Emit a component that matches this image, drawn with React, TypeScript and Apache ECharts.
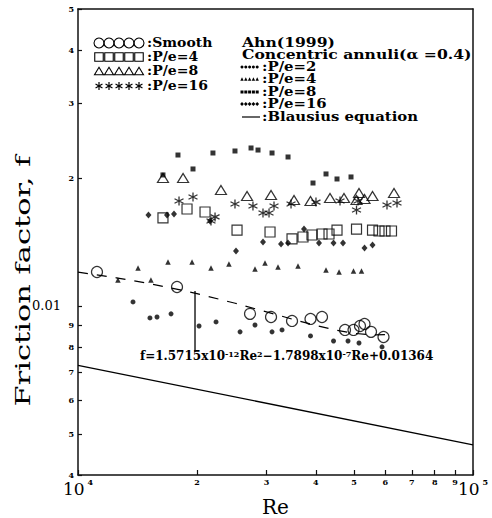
import React, { useEffect, useRef } from 'react';
import * as echarts from 'echarts';

// ---- Data (Re, f) ----
// Present study, smooth annulus (open circles)
const smoothRe = [11170, 17810, 27260, 30810, 34820, 38780, 41470, 47420, 49830, 51750, 53130, 55180, 59350];
const smoothF = [0.01202, 0.01108, 0.00958, 0.00942, 0.00922, 0.00932, 0.00942, 0.00878, 0.00878, 0.00897, 0.00907, 0.00869, 0.00845];
// P/e=4 (open squares)
const pe4Re = [16410, 18880, 20970, 25270, 30630, 34820, 37120, 39120, 41470, 43200, 45260, 50710, 55670, 57810, 59870, 62180];
const pe4F = [0.01611, 0.01691, 0.01664, 0.01509, 0.01493, 0.01438, 0.01453, 0.01469, 0.01477, 0.01477, 0.01509, 0.01517, 0.01509, 0.01501, 0.01501, 0.01501];
// P/e=8 (open triangles)
const pe8Re = [16410, 18450, 23010, 26790, 30810, 35230, 38780, 43450, 47140, 50710, 51450, 53130, 55670, 63100];
const pe8F = [0.02001, 0.02001, 0.01875, 0.01815, 0.01825, 0.01775, 0.01766, 0.01795, 0.01795, 0.01775, 0.01845, 0.01785, 0.01815, 0.01845];
// P/e=16 (asterisks)
const pe16Re = [18020, 19550, 21710, 22230, 24970, 27730, 29400, 30450, 31350, 34620, 40040, 46060, 50710, 51150, 60570, 64210];
const pe16F = [0.01766, 0.01805, 0.01585, 0.0162, 0.01738, 0.01719, 0.01655, 0.01655, 0.01719, 0.01738, 0.01756, 0.01766, 0.01682, 0.01766, 0.01728, 0.01747];
// Ahn (1999) P/e=2 (filled circles)
const ahn2Re = [13780, 15210, 15850, 17200, 20250, 22360, 25720, 28060, 30990, 32850, 38780, 44350, 48260, 51450, 58840];
const ahn2F = [0.01022, 0.00937, 0.00942, 0.00958, 0.00897, 0.00917, 0.00869, 0.00902, 0.00869, 0.00878, 0.0085, 0.00827, 0.00827, 0.00818, 0.00801];
// Ahn (1999) P/e=4 (filled triangles)
const ahn4Re = [12620, 14190, 15300, 16900, 19440, 21710, 24110, 28060, 29750, 32090, 36060, 42450, 45800, 49830, 52210];
const ahn4F = [0.01151, 0.01228, 0.01151, 0.01269, 0.01269, 0.01228, 0.01255, 0.01222, 0.01262, 0.01235, 0.01242, 0.01215, 0.01202, 0.01209, 0.01209];
// Ahn (1999) P/e=8 (filled squares)
const ahn8Re = [16410, 17910, 19550, 21960, 24970, 27420, 28560, 30990, 34020, 39350, 42450, 45260, 49110];
const ahn8F = [0.02034, 0.02266, 0.02101, 0.02291, 0.02316, 0.02354, 0.02328, 0.02291, 0.02242, 0.01947, 0.02045, 0.0199, 0.02012];
// Ahn (1999) P/e=16 (filled diamonds)
const ahn16Re = [15080, 16800, 17500, 21590, 25120, 29400, 32660, 34020, 37340, 40750, 44350, 46870, 53130, 55670];
const ahn16F = [0.01637, 0.01637, 0.01646, 0.01585, 0.01347, 0.01414, 0.01399, 0.01406, 0.01517, 0.01406, 0.01406, 0.01406, 0.01369, 0.01391];
// Blausius equation (solid line)
const blasiusRe = [10000, 100000];
const blasiusF = [0.00725, 0.00471];
// Fitted curve for smooth annulus (dashed line)
const fitRe = [10000, 12500, 15000, 17500, 20000, 25000, 30000, 35000, 40000, 45000, 50000, 55000, 60000];
const fitF = [0.012007, 0.011648, 0.011309, 0.010989, 0.010689, 0.010148, 0.009685, 0.009301, 0.008995, 0.008768, 0.00862, 0.00855, 0.008559];
// Pointer from the curve to the equation
const pointerRe = [19780, 19780];
const pointerF = [0.01084, 0.00779];

// ---- Axes ----
const xMin = 10000;
const xMax = 100000;
const yMin = 0.004;
const yMax = 0.05;
const xTickValues = [10000, 20000, 30000, 40000, 50000, 60000, 70000, 80000, 90000, 100000];
const xTickLabels = ['10^4', '2', '3', '4', '5', '6', '7', '8', '9', '10^5'];
const yTickValues = [0.004, 0.005, 0.006, 0.007, 0.008, 0.009, 0.01, 0.02, 0.03, 0.04, 0.05];
const yTickLabels = ['4', '5', '6', '7', '8', '9', '0.01', '2', '3', '4', '5'];

const equationText = '{n|f=1.5715x10}{s|-12}{n|Re}{s|2}{n|−1.7898x10}{s|-7}{n|Re+0.01364}';
const yTitle = 'Friction factor, f';
const xTitle = 'Re';
const leftLegend = [':Smooth', ':P/e=4', ':P/e=8', ':P/e=16'];
const rightTitle = ['Ahn(1999)', 'Concentric annuli(α =0.4)'];
const rightLegend = [':P/e=2', ':P/e=4', ':P/e=8', ':P/e=16', ':Blausius equation'];

const SERIF = "'DejaVu Serif', serif";
const L = Math.log10;
const pts = (re: number[], f: number[]) => re.map((r, i) => [L(r), L(f[i])]);
const findIdx = (ticks: number[], v: number) => ticks.findIndex((t) => Math.abs(L(t) - v) < 1e-6);

function legendShapes(kind: string, x0: number, y: number, step: number, size: number, n = 5) {
  const out: any[] = [];
  const stroke = { stroke: '#000', lineWidth: 1.1, fill: 'none' };
  for (let i = 0; i < n; i++) {
    const cx = x0 + i * step;
    if (kind === 'ocircle') out.push({ type: 'circle', shape: { cx, cy: y, r: size / 2 }, style: stroke });
    if (kind === 'osquare') out.push({ type: 'rect', shape: { x: cx - size / 2, y: y - size / 2, width: size, height: size }, style: stroke });
    if (kind === 'otri') out.push({ type: 'polygon', shape: { points: [[cx, y - size * 0.42], [cx + size / 2, y + size * 0.42], [cx - size / 2, y + size * 0.42]] }, style: stroke });
    if (kind === 'star') {
      const r = size / 2;
      for (let k = 0; k < 3; k++) {
        const a = (Math.PI / 3) * k + Math.PI / 2;
        out.push({ type: 'line', shape: { x1: cx - r * Math.cos(a), y1: y - r * Math.sin(a), x2: cx + r * Math.cos(a), y2: y + r * Math.sin(a) }, style: { stroke: '#000', lineWidth: 1.2 } });
      }
    }
    const fill = { fill: '#000' };
    if (kind === 'dot') out.push({ type: 'circle', shape: { cx, cy: y, r: size / 2 }, style: fill });
    if (kind === 'ftri') out.push({ type: 'polygon', shape: { points: [[cx, y - size / 2], [cx + size / 2, y + size / 2], [cx - size / 2, y + size / 2]] }, style: fill });
    if (kind === 'fsquare') out.push({ type: 'rect', shape: { x: cx - size / 2, y: y - size / 2, width: size, height: size }, style: fill });
    if (kind === 'diamond') out.push({ type: 'polygon', shape: { points: [[cx, y - size / 2], [cx + size / 2, y], [cx, y + size / 2], [cx - size / 2, y]] }, style: fill });
  }
  return out;
}

export default function App() {
  const ref = useRef<HTMLDivElement>(null);
  useEffect(() => {
    if (!ref.current) return;
    const chart = echarts.init(ref.current, null, { renderer: 'svg' });
    const open = { color: 'rgba(0,0,0,0)', borderColor: '#000', borderWidth: 1.2 };
    const filled = { color: '#000' };
    const txt = (text: string, x: number, y: number, extra: any = {}, sx = 1) => ({
      type: 'text', x, y, scaleX: sx,
      style: { text, fontFamily: SERIF, fontSize: 12, fontWeight: 'bold', fill: '#000', align: 'left', verticalAlign: 'middle', ...extra },
    });
    const leftRows = [43, 57, 71, 86];
    const rightRows = [67, 79, 92, 104, 117];
    const graphic: any[] = [
      {
        type: 'text', x: 23, y: 281, rotation: Math.PI / 2, scaleX: 1.45,
        style: { text: yTitle, fontFamily: SERIF, fontSize: 21, fill: '#000', align: 'center', verticalAlign: 'middle' },
      },
      {
        type: 'text', x: 140, y: 356,
        style: {
          text: equationText, align: 'left', verticalAlign: 'middle',
          rich: {
            n: { fontFamily: SERIF, fontSize: 12, fontWeight: 'bold', fill: '#000' },
            s: { fontFamily: SERIF, fontSize: 8, fontWeight: 'bold', fill: '#000', verticalAlign: 'top' },
          },
        },
      },
      ...leftLegend.map((t, i) => txt(t, 147, leftRows[i], { fontSize: 12.5 }, 1.12)),
      ...legendShapes('ocircle', 99, leftRows[0], 10, 10),
      ...legendShapes('osquare', 99, leftRows[1], 10, 8.5),
      ...legendShapes('otri', 99, leftRows[2], 10, 9),
      ...legendShapes('star', 99, leftRows[3], 10, 8),
      txt(rightTitle[0], 242, 43, {}, 1.3),
      txt(rightTitle[1], 242, 55, {}, 1.3),
      ...rightLegend.map((t, i) => txt(t, 262, rightRows[i], {}, 1.24)),
      ...legendShapes('dot', 242, rightRows[0], 3.8, 3),
      ...legendShapes('ftri', 242, rightRows[1], 3.8, 3.4),
      ...legendShapes('fsquare', 242, rightRows[2], 3.8, 3),
      ...legendShapes('diamond', 242, rightRows[3], 3.8, 3.8),
      { type: 'line', shape: { x1: 242, y1: rightRows[4], x2: 260, y2: rightRows[4] }, style: { stroke: '#000', lineWidth: 1.2 } },
    ];

    const frameAxis = { show: true, axisLine: { show: true, lineStyle: { color: '#111', width: 1.5 } }, axisTick: { show: false }, axisLabel: { show: false }, splitLine: { show: false } };

    chart.setOption({
      animation: false,
      backgroundColor: '#fff',
      textStyle: { fontFamily: SERIF, color: '#000' },
      grid: { left: 78, top: 9, width: 395, height: 466, containLabel: false, outerBoundsMode: 'none' },
      xAxis: [
        {
          type: 'value', min: L(xMin), max: L(xMax),
          name: xTitle, nameLocation: 'middle', nameGap: 22, nameMoveOverlap: false,
          nameTextStyle: { fontFamily: SERIF, fontSize: 20, color: '#000' },
          axisLine: { lineStyle: { color: '#111', width: 1.5 } },
          splitLine: { show: false },
          axisTick: { inside: true, length: 5, lineStyle: { color: '#111', width: 1.2 }, customValues: xTickValues.map(L) },
          axisLabel: {
            customValues: xTickValues.map(L), margin: 3,
            formatter: (v: number) => {
              const lab = xTickLabels[findIdx(xTickValues, v)] ?? '';
              if (lab.startsWith('10^')) return `{big|10}{sup| ${lab.slice(3)}}`;
              return `{small|${lab}}`;
            },
            rich: {
              small: { fontFamily: SERIF, fontSize: 8, fontWeight: 'bold', color: '#000' },
              big: { fontFamily: SERIF, fontSize: 17, color: '#000', lineHeight: 22 },
              sup: { fontFamily: SERIF, fontSize: 8, fontWeight: 'bold', color: '#000', verticalAlign: 'top' },
            },
          },
        },
        { type: 'value', position: 'top', min: L(xMin), max: L(xMax), ...frameAxis },
      ],
      yAxis: [
        {
          type: 'value', min: L(yMin), max: L(yMax),
          axisLine: { lineStyle: { color: '#111', width: 1.5 } },
          splitLine: { show: false },
          axisTick: { inside: true, length: 4, lineStyle: { color: '#111', width: 1.2 }, customValues: yTickValues.map(L) },
          axisLabel: {
            customValues: yTickValues.map(L), margin: 4,
            formatter: (v: number) => {
              const lab = yTickLabels[findIdx(yTickValues, v)] ?? '';
              if (lab === '0.01') return `{big|${lab}}`;
              return `{small|${lab}}`;
            },
            rich: {
              small: { fontFamily: SERIF, fontSize: 8, fontWeight: 'bold', color: '#000' },
              big: { fontFamily: SERIF, fontSize: 13, color: '#000', padding: [0, 13, 0, 0] },
            },
          },
        },
        { type: 'value', position: 'right', min: L(yMin), max: L(yMax), ...frameAxis },
      ],
      graphic,
      series: [
        { type: 'line', data: pts(blasiusRe, blasiusF), symbol: 'none', lineStyle: { color: '#000', width: 1.3 }, z: 1 },
        { type: 'line', data: pts(fitRe, fitF), symbol: 'none', lineStyle: { color: '#000', width: 1.2, type: [10, 9] }, z: 1 },
        { type: 'line', data: pts(pointerRe, pointerF), symbol: 'none', lineStyle: { color: '#000', width: 1.3 }, z: 1 },
        { type: 'scatter', data: pts(smoothRe, smoothF), symbol: 'circle', symbolSize: 11, itemStyle: open, z: 3 },
        { type: 'scatter', data: pts(pe4Re, pe4F), symbol: 'rect', symbolSize: 10, itemStyle: open, z: 3 },
        { type: 'scatter', data: pts(pe8Re, pe8F), symbol: 'triangle', symbolSize: [11, 9], itemStyle: open, z: 3 },
        {
          type: 'scatter', data: pts(pe16Re, pe16F),
          symbol: 'path://M5,0L5,10M0.67,2.5L9.33,7.5M0.67,7.5L9.33,2.5', symbolSize: 9,
          itemStyle: { color: 'rgba(0,0,0,0)', borderColor: '#000', borderWidth: 1.3 }, z: 3,
        },
        { type: 'scatter', data: pts(ahn2Re, ahn2F), symbol: 'circle', symbolSize: 5, itemStyle: filled, z: 4 },
        { type: 'scatter', data: pts(ahn4Re, ahn4F), symbol: 'triangle', symbolSize: 5.5, itemStyle: filled, z: 4 },
        { type: 'scatter', data: pts(ahn8Re, ahn8F), symbol: 'rect', symbolSize: 5, itemStyle: filled, z: 4 },
        { type: 'scatter', data: pts(ahn16Re, ahn16F), symbol: 'diamond', symbolSize: [6, 7], itemStyle: filled, z: 4 },
      ],
    });
    return () => chart.dispose();
  }, []);
  return <div ref={ref} style={{ position: 'fixed', left: 0, top: 0, width: 492, height: 518, background: '#fff' }} />;
}
